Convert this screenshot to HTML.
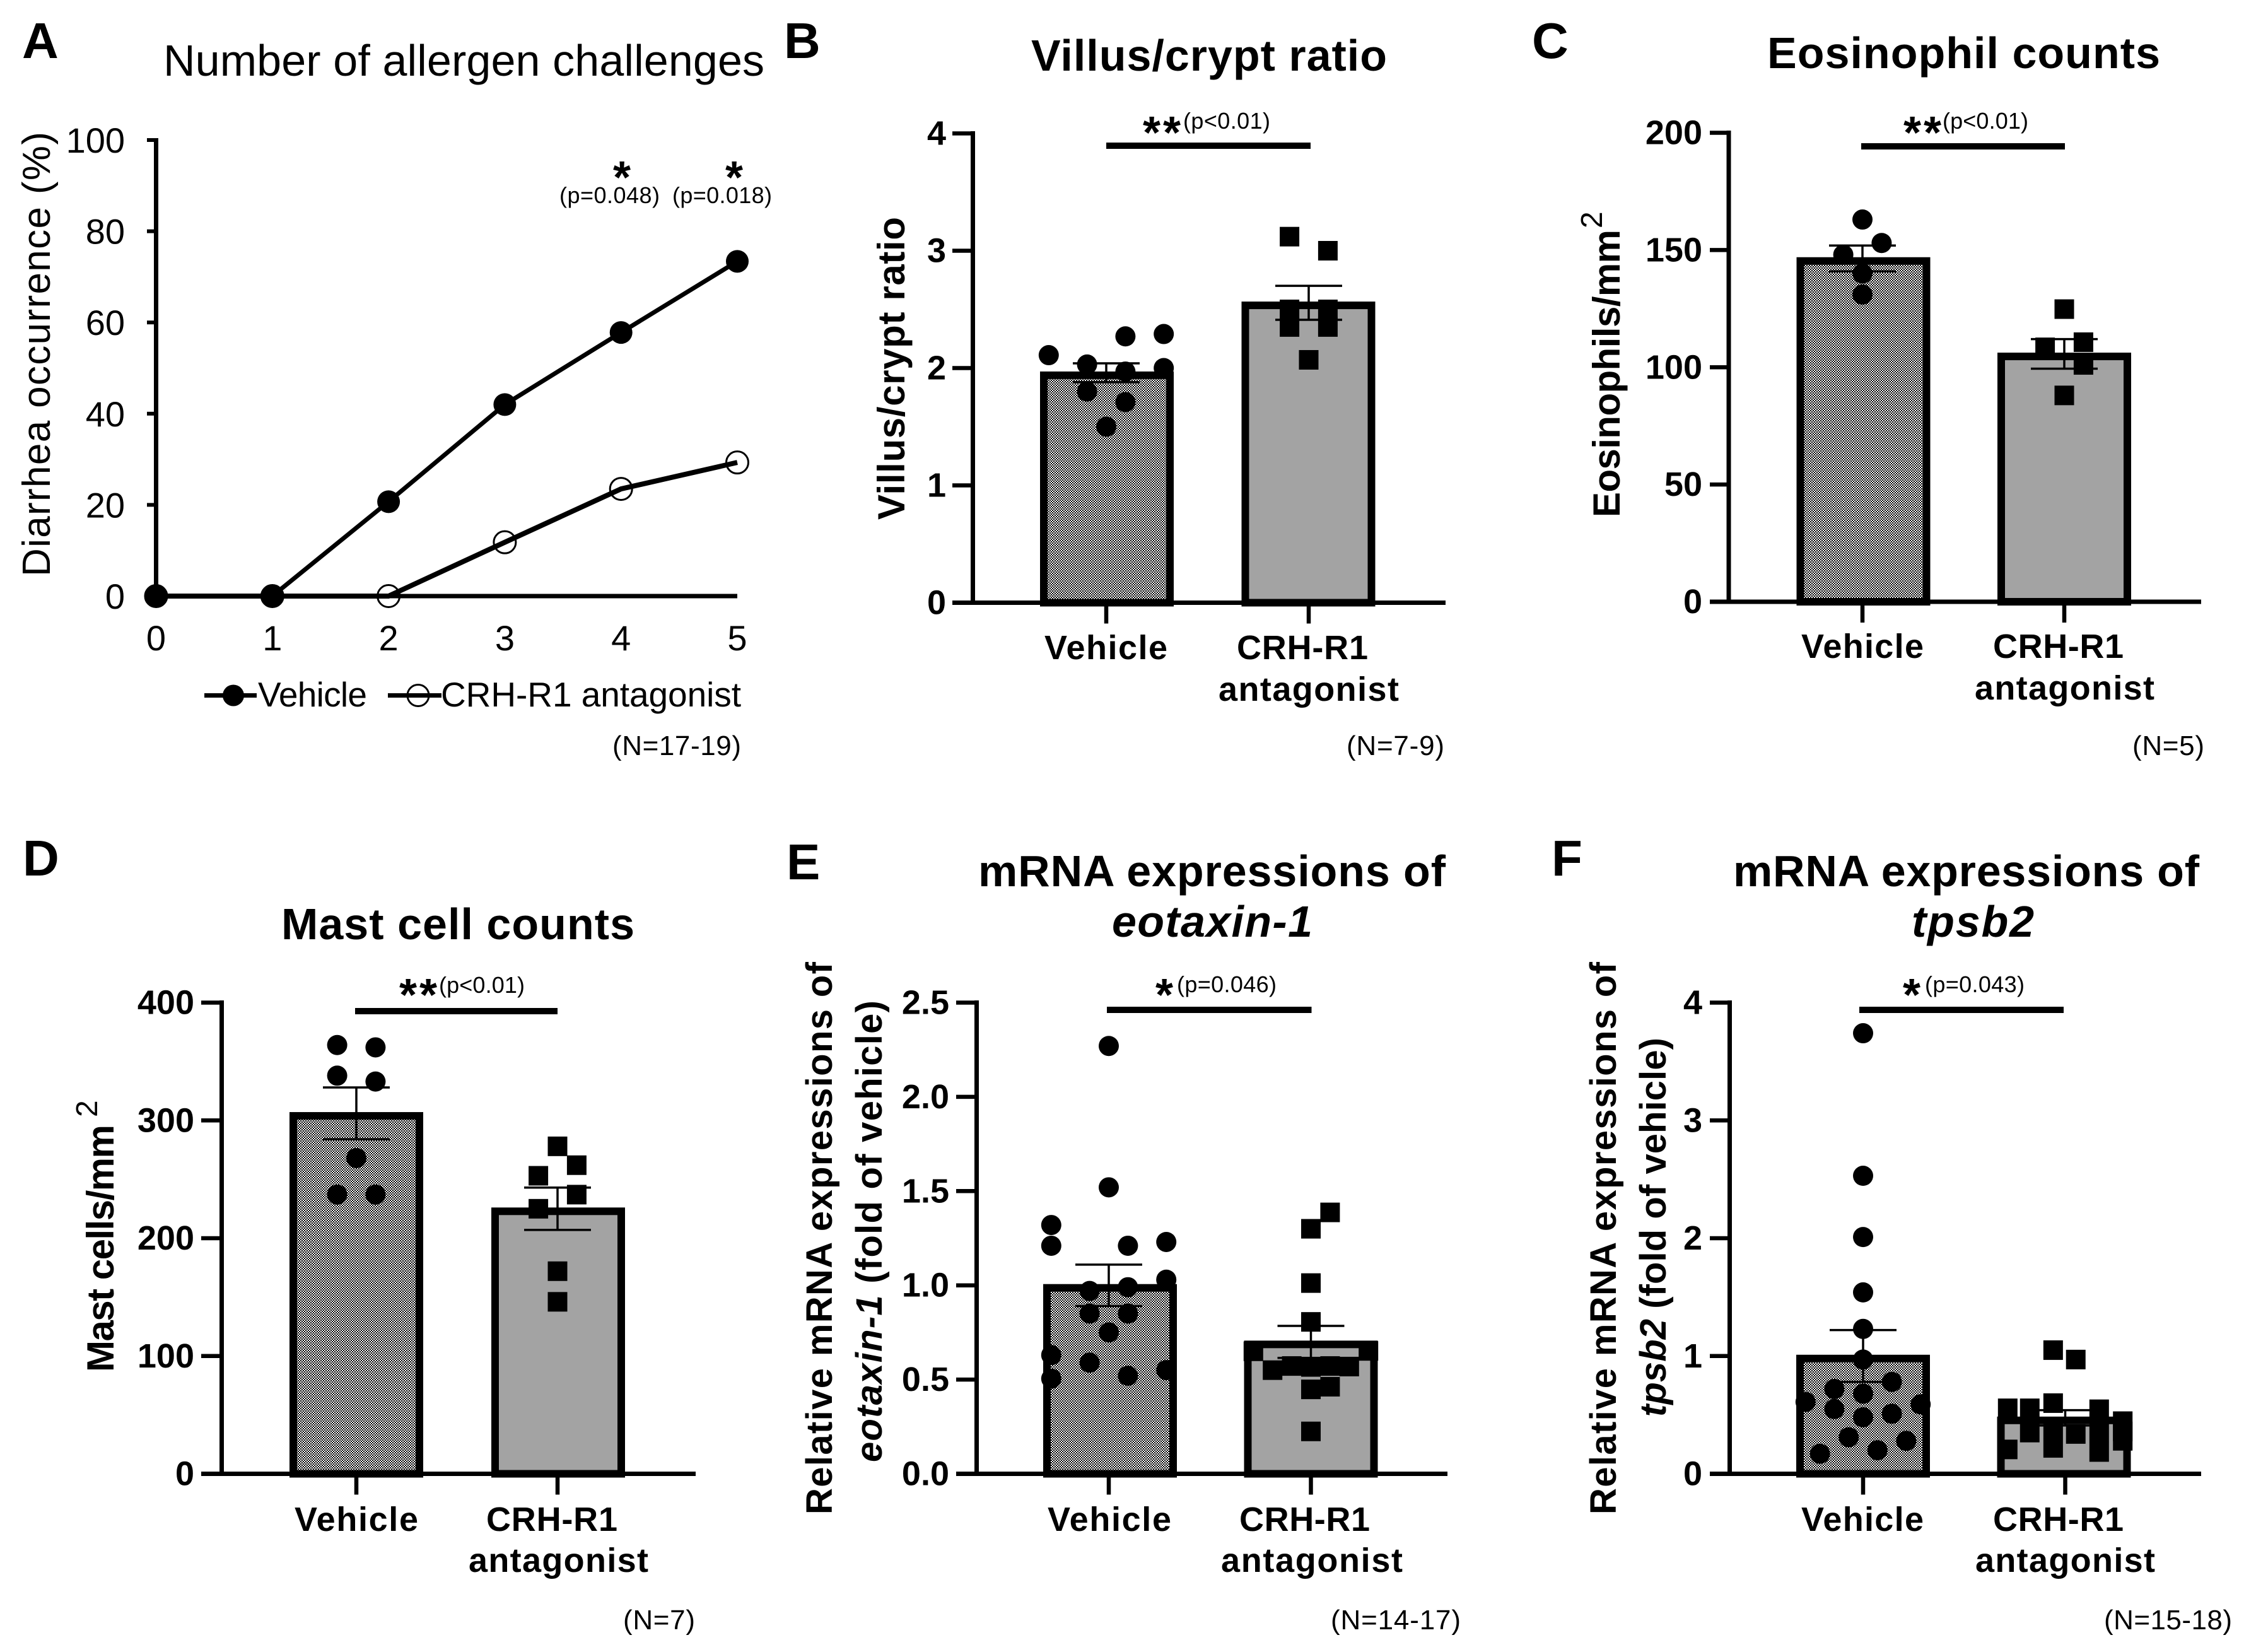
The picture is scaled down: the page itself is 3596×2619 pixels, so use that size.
<!DOCTYPE html>
<html lang="en">
<head>
<meta charset="utf-8">
<title>CRH-R1 antagonist figure</title>
<style>
html,body{margin:0;padding:0;background:#fff;}
svg{display:block;}
text{font-family:"Liberation Sans",Arial,sans-serif;fill:#000;}
.b{font-weight:700;}
.i{font-style:italic;}
</style>
</head>
<body>
<svg id="figure" xmlns="http://www.w3.org/2000/svg" width="3596" height="2619" viewBox="0 0 3596 2619">
<defs>
<pattern id="dither" width="4" height="4" patternUnits="userSpaceOnUse">
<rect width="4" height="4" fill="#fff"/><rect width="2" height="2" fill="#000"/><rect x="2" y="2" width="2" height="2" fill="#000"/>
</pattern>
</defs>
<rect width="3596" height="2619" fill="#fff"/>

<!-- Panel A text -->
<text class="b" x="35" y="92" font-size="80">A</text>
<text x="259" y="120" font-size="70" textLength="953">Number of allergen challenges</text>
<text x="79" y="914" font-size="62" textLength="705" transform="rotate(-90 79 914)">Diarrhea occurrence (%)</text>
<text class="b" x="986" y="306" font-size="72" text-anchor="middle">*</text>
<text class="b" x="1164" y="306" font-size="72" text-anchor="middle">*</text>
<text x="887" y="322" font-size="36" textLength="159">(p=0.048)</text>
<text x="1066" y="322" font-size="36" textLength="158">(p=0.018)</text>
<text x="409" y="1120" font-size="55" textLength="173">Vehicle</text>
<text x="699" y="1120" font-size="55" textLength="476">CRH-R1 antagonist</text>
<text x="971" y="1197" font-size="44" textLength="204">(N=17-19)</text>

<!-- Panel B text -->
<text class="b" x="1243" y="92" font-size="80">B</text>
<text class="b" x="1635" y="112" font-size="70" textLength="564">Villus/crypt ratio</text>
<text class="b" x="1434" y="824" font-size="60" textLength="480" transform="rotate(-90 1434 824)">Villus/crypt ratio</text>
<text class="b" x="1656" y="1045" font-size="54" textLength="195">Vehicle</text>
<text class="b" x="1961" y="1045" font-size="54" textLength="208">CRH-R1</text>
<text class="b" x="1932" y="1111" font-size="54" textLength="286">antagonist</text>
<text class="b" x="1812" y="235" font-size="72" textLength="60">**</text>
<text x="1876" y="204" font-size="36" textLength="138">(p&lt;0.01)</text>
<text x="2135" y="1197" font-size="44" textLength="155">(N=7-9)</text>

<!-- Panel C text -->
<text class="b" x="2429" y="92" font-size="80">C</text>
<text class="b" x="2802" y="108" font-size="70" textLength="623">Eosinophil counts</text>
<text class="b" x="2568" y="820" font-size="60" textLength="456" transform="rotate(-90 2568 820)">Eosinophils/mm</text>
<text x="2540" y="362" font-size="48" transform="rotate(-90 2540 362)">2</text>
<text class="b" x="2856" y="1043" font-size="54" textLength="194">Vehicle</text>
<text class="b" x="3160" y="1043" font-size="54" textLength="207">CRH-R1</text>
<text class="b" x="3131" y="1109" font-size="54" textLength="285">antagonist</text>
<text class="b" x="3018" y="235" font-size="72" textLength="60">**</text>
<text x="3080" y="204" font-size="36" textLength="136">(p&lt;0.01)</text>
<text x="3381" y="1197" font-size="44" textLength="114">(N=5)</text>

<!-- Panel D text -->
<text class="b" x="36" y="1388" font-size="80">D</text>
<text class="b" x="446" y="1489" font-size="70" textLength="560">Mast cell counts</text>
<text class="b" x="180" y="2175" font-size="60" textLength="392" transform="rotate(-90 180 2175)">Mast cells/mm</text>
<text x="154" y="1771" font-size="48" transform="rotate(-90 154 1771)">2</text>
<text class="b" x="467" y="2427" font-size="54" textLength="196">Vehicle</text>
<text class="b" x="771" y="2427" font-size="54" textLength="208">CRH-R1</text>
<text class="b" x="743" y="2492" font-size="54" textLength="285">antagonist</text>
<text class="b" x="633" y="1602" font-size="72" textLength="60">**</text>
<text x="696" y="1574" font-size="36" textLength="136">(p&lt;0.01)</text>
<text x="988" y="2583" font-size="44" textLength="114">(N=7)</text>

<!-- Panel E text -->
<text class="b" x="1247" y="1394" font-size="80">E</text>
<text class="b" x="1551" y="1405" font-size="70" textLength="741">mRNA expressions of</text>
<text class="b i" x="1763" y="1485" font-size="70" textLength="318">eotaxin-1</text>
<text class="b" x="1319" y="2401" font-size="58" textLength="876" transform="rotate(-90 1319 2401)">Relative mRNA expressions of</text>
<text class="b" x="1398" y="2318" font-size="58" textLength="732" transform="rotate(-90 1398 2318)"><tspan class="i">eotaxin-1</tspan> (fold of vehicle)</text>
<text class="b" x="1661" y="2427" font-size="54" textLength="196">Vehicle</text>
<text class="b" x="1965" y="2427" font-size="54" textLength="207">CRH-R1</text>
<text class="b" x="1936" y="2492" font-size="54" textLength="288">antagonist</text>
<text class="b" x="1846" y="1602" font-size="72" text-anchor="middle">*</text>
<text x="1866" y="1573" font-size="36" textLength="158">(p=0.046)</text>
<text x="2110" y="2583" font-size="44" textLength="206">(N=14-17)</text>

<!-- Panel F text -->
<text class="b" x="2460" y="1388" font-size="80">F</text>
<text class="b" x="2748" y="1405" font-size="70" textLength="739">mRNA expressions of</text>
<text class="b i" x="3031" y="1485" font-size="70" textLength="194">tpsb2</text>
<text class="b" x="2562" y="2401" font-size="58" textLength="876" transform="rotate(-90 2562 2401)">Relative mRNA expressions of</text>
<text class="b" x="2641" y="2246" font-size="58" textLength="601" transform="rotate(-90 2641 2246)"><tspan class="i">tpsb2</tspan> (fold of vehicle)</text>
<text class="b" x="2856" y="2427" font-size="54" textLength="194">Vehicle</text>
<text class="b" x="3160" y="2427" font-size="54" textLength="207">CRH-R1</text>
<text class="b" x="3132" y="2492" font-size="54" textLength="285">antagonist</text>
<text class="b" x="3031" y="1602" font-size="72" text-anchor="middle">*</text>
<text x="3052" y="1573" font-size="36" textLength="158">(p=0.043)</text>
<text x="3336" y="2583" font-size="44" textLength="203">(N=15-18)</text>

<g id="marks"></g>
</svg>

<script>
// ---- Panel A data ----
const aChallengeLabels = ["0", "1", "2", "3", "4", "5"];
const aYTickLabels = ["0", "20", "40", "60", "80", "100"];
const aVehicle = [0, 0, 20.7, 42, 57.8, 73.4];
const aAntagonist = [0, 0, 0, 11.8, 23.5, 29.3];

// ---- Panel B data ----
const bYTickLabels = ["0", "1", "2", "3", "4"];
const bMeans = [1.96, 2.556];
const bSems = [0.08, 0.145];
const bVehicleValues = [2.11, 2.03, 2.27, 2.29, 2.0, 1.97, 1.8, 1.71, 1.5];
const bVehicleSwarm = [-3, -1, 1, 3, 3, 1, -1, 1, 0];
const bAntagonistValues = [3.12, 3.0, 2.5, 2.5, 2.35, 2.35, 2.07];
const bAntagonistSwarm = [-1, 1, -1, 1, -1, 1, 0];

// ---- Panel C data ----
const cYTickLabels = ["0", "50", "100", "150", "200"];
const cMeans = [146.4, 105.7];
const cSems = [5.5, 6.3];
const cVehicleValues = [163, 153, 148, 140, 131];
const cVehicleSwarm = [0, 1, -1, 0, 0];
const cAntagonistValues = [124.8, 108.5, 110.7, 101, 88];
const cAntagonistSwarm = [0, -1, 1, 1, 0];

// ---- Panel D data ----
const dYTickLabels = ["0", "100", "200", "300", "400"];
const dMeans = [306, 225];
const dSems = [22, 18];
const dVehicleValues = [364, 362, 338, 333, 268, 237, 237];
const dVehicleSwarm = [-1, 1, -1, 1, 0, -1, 1];
const dAntagonistValues = [278, 262, 253, 237, 225, 172, 146];
const dAntagonistSwarm = [0, 1, -1, 1, -1, 0, 0];

// ---- Panel E data ----
const eYTickLabels = ["0.0", "0.5", "1.0", "1.5", "2.0", "2.5"];
const eMeans = [1.0, 0.7];
const eSems = [0.11, 0.085];
const eVehicleValues = [2.27, 1.52, 1.32, 1.21, 1.21, 1.23, 1.03, 0.97, 0.99, 0.85, 0.85, 0.75, 0.63, 0.59, 0.55, 0.52, 0.505];
const eVehicleSwarm = [0, 0, -3, -3, 1, 3, 3, -1, 1, -1, 1, 0, -3, -1, 3, 1, -3];
const eAntagonistValues = [1.387, 1.3, 1.012, 0.806, 0.65, 0.652, 0.55, 0.572, 0.567, 0.572, 0.569, 0.448, 0.462, 0.225];
const eAntagonistSwarm = [1, 0, 0, 0, -3, 3, -2, -1, 0, 1, 2, 0, 1, 0];

// ---- Panel F data ----
const fYTickLabels = ["0", "1", "2", "3", "4"];
const fMeans = [1.0, 0.475];
const fSems = [0.22, 0.065];
const fVehicleValues = [3.74, 2.53, 2.01, 1.54, 1.23, 0.97, 0.78, 0.72, 0.68, 0.61, 0.59, 0.55, 0.48, 0.51, 0.31, 0.28, 0.17, 0.2];
const fVehicleSwarm = [0, 0, 0, 0, 0, 0, 1.5, -1.5, 0, -3, 3, -1.5, 0, 1.5, -0.75, 2.25, -2.25, 0.75];
const fAntagonistValues = [1.05, 0.97, 0.556, 0.556, 0.6, 0.548, 0.447, 0.385, 0.35, 0.338, 0.35, 0.36, 0.22, 0.185, 0.207, 0.28];
const fAntagonistSwarm = [-0.63, 0.55, -3, -1.85, -0.63, 1.77, 3, -0.63, -1.85, 0.55, 1.77, 3, -0.63, 1.77, -3, 3];

// ---- Layout (geometry only) ----
const NS = "http://www.w3.org/2000/svg";
const root = document.getElementById("marks");
const SWARM_STEP = 30.4, BAR_WIDTH = 212, BORDER = 12, CAP_WIDTH = 106;

function add(parent, tag, attrs, name) {
  const el = document.createElementNS(NS, tag);
  for (const k in attrs) el.setAttribute(k, attrs[k]);
  
  
  parent.appendChild(el);
  return el;
}
function hline(p, x1, x2, y, w, name) {
  return add(p, "line", {x1: x1, x2: x2, y1: y, y2: y, stroke: "#000", "stroke-width": w}, name);
}
function vline(p, x, y1, y2, w, name) {
  return add(p, "line", {x1: x, x2: x, y1: y1, y2: y2, stroke: "#000", "stroke-width": w}, name);
}

function drawBarPanel(id, L, labels, means, sems, series) {
  const g = add(root, "g", {}, "panel-" + id + "-plot");
  const yMax = Number(labels[labels.length - 1]);
  const y = v => L.y0 - (v / yMax) * (L.y0 - L.yTop);
  // bars
  series.forEach((s, i) => {
    const left = L.centers[i] - BAR_WIDTH / 2 + L.barShift[i];
    const top = y(means[i]) - 2;
    add(g, "rect", {
      x: left + BORDER / 2, y: top + BORDER / 2,
      width: BAR_WIDTH - BORDER, height: L.y0 - top - BORDER / 2,
      fill: i === 0 ? "url(#dither)" : "#a3a3a3", stroke: "#000", "stroke-width": BORDER
    }, "panel-" + id + "-bar-" + s.name);
  });
  // points
  series.forEach((s, i) => {
    const cx = L.centers[i];
    s.values.forEach((v, k) => {
      const px = cx + s.swarm[k] * SWARM_STEP;
      if (i === 0) {
        add(g, "circle", {cx: px, cy: y(v), r: 16, fill: "#000"}, "panel-" + id + "-point-vehicle");
      } else {
        add(g, "rect", {x: px - 15.5, y: y(v) - 15.5, width: 31, height: 31, fill: "#000"}, "panel-" + id + "-point-antagonist");
      }
    });
  });
  // error bars
  series.forEach((s, i) => {
    const cx = L.centers[i];
    vline(g, cx, y(means[i] + sems[i]), y(means[i] - sems[i]), 3.5, "panel-" + id + "-error-stem-" + s.name);
    hline(g, cx - CAP_WIDTH / 2, cx + CAP_WIDTH / 2, y(means[i] + sems[i]), 3.5, "panel-" + id + "-error-cap-upper-" + s.name);
    hline(g, cx - CAP_WIDTH / 2, cx + CAP_WIDTH / 2, y(means[i] - sems[i]), 3.5, "panel-" + id + "-error-cap-lower-" + s.name);
  });
  // axes
  vline(g, L.axisX, L.yTop - 3.5, L.y0, 7, "panel-" + id + "-y-axis");
  hline(g, L.tickStart, L.axisEnd, L.y0, 7, "panel-" + id + "-x-axis");
  labels.forEach(lab => {
    const v = Number(lab);
    if (v > 0) hline(g, L.tickStart, L.axisX, y(v), 6.5, "panel-" + id + "-y-tick");
    const t = add(g, "text", {x: L.labelRight, y: y(v) + 18, "font-size": 54, "text-anchor": "end", "class": "b"}, "panel-" + id + "-y-tick-label");
    t.textContent = lab;
  });
  L.centers.forEach(cx => vline(g, cx, L.y0, L.y0 + 33, 6.5, "panel-" + id + "-x-tick"));
  hline(g, L.sig[0], L.sig[1], L.sig[2], 10, "panel-" + id + "-significance-bar");
}

const layoutB = {axisX: 1542.5, y0: 955.5, yTop: 211.5, tickStart: 1510, axisEnd: 2292, labelRight: 1500, centers: [1754, 2075], barShift: [1, -0.5], sig: [1754, 2078, 231]};
const layoutC = {axisX: 2741, y0: 954, yTop: 210.5, tickStart: 2711, axisEnd: 3490, labelRight: 2699, centers: [2953, 3273], barShift: [1.5, 0], sig: [2951, 3274, 232]};
const layoutD = {axisX: 351.5, y0: 2336.5, yTop: 1589.5, tickStart: 319, axisEnd: 1103, labelRight: 308, centers: [565, 884], barShift: [0, 1], sig: [563, 884, 1603]};
const layoutE = {axisX: 1548.5, y0: 2336.5, yTop: 1589.5, tickStart: 1516, axisEnd: 2295, labelRight: 1505, centers: [1758, 2078.5], barShift: [2, 0], sig: [1755, 2079.5, 1601]};
const layoutF = {axisX: 2742.5, y0: 2336.5, yTop: 1589.5, tickStart: 2711, axisEnd: 3490, labelRight: 2699, centers: [2954, 3274.5], barShift: [0, -2], sig: [2948, 3272, 1601]};

drawBarPanel("b", layoutB, bYTickLabels, bMeans, bSems, [
  {name: "vehicle", values: bVehicleValues, swarm: bVehicleSwarm},
  {name: "antagonist", values: bAntagonistValues, swarm: bAntagonistSwarm}]);
drawBarPanel("c", layoutC, cYTickLabels, cMeans, cSems, [
  {name: "vehicle", values: cVehicleValues, swarm: cVehicleSwarm},
  {name: "antagonist", values: cAntagonistValues, swarm: cAntagonistSwarm}]);
drawBarPanel("d", layoutD, dYTickLabels, dMeans, dSems, [
  {name: "vehicle", values: dVehicleValues, swarm: dVehicleSwarm},
  {name: "antagonist", values: dAntagonistValues, swarm: dAntagonistSwarm}]);
drawBarPanel("e", layoutE, eYTickLabels, eMeans, eSems, [
  {name: "vehicle", values: eVehicleValues, swarm: eVehicleSwarm},
  {name: "antagonist", values: eAntagonistValues, swarm: eAntagonistSwarm}]);
drawBarPanel("f", layoutF, fYTickLabels, fMeans, fSems, [
  {name: "vehicle", values: fVehicleValues, swarm: fVehicleSwarm},
  {name: "antagonist", values: fAntagonistValues, swarm: fAntagonistSwarm}]);

// ---- Panel A line chart ----
(function () {
  const g = add(root, "g", {}, "panel-a-plot");
  const X0 = 247.5, X5 = 1169, Y0 = 945, Y100 = 222;
  const x = v => X0 + (v / 5) * (X5 - X0);
  const y = v => Y0 - (v / 100) * (Y0 - Y100);
  vline(g, X0, Y100 - 3, Y0, 7, "panel-a-y-axis");
  hline(g, X0, X5, Y0, 7, "panel-a-x-axis");
  aYTickLabels.forEach(lab => {
    const v = Number(lab);
    hline(g, 233, X0, y(v), 6, "panel-a-y-tick");
    const t = add(g, "text", {x: 198, y: y(v) + 20, "font-size": 56, "text-anchor": "end"}, "panel-a-y-tick-label");
    t.textContent = lab;
  });
  aChallengeLabels.forEach(lab => {
    const t = add(g, "text", {x: x(Number(lab)), y: 1031, "font-size": 56, "text-anchor": "middle"}, "panel-a-x-tick-label");
    t.textContent = lab;
  });
  const pathOf = arr => arr.map((v, i) => (i ? "L" : "M") + x(Number(aChallengeLabels[i])) + " " + y(v)).join(" ");
  add(g, "path", {d: pathOf(aAntagonist), fill: "none", stroke: "#000", "stroke-width": 8}, "line-crh-r1-antagonist");
  aAntagonist.forEach((v, i) => {
    add(g, "circle", {cx: x(Number(aChallengeLabels[i])), cy: y(v), r: 17.5, fill: "none", stroke: "#000", "stroke-width": 3}, "point-crh-r1-antagonist");
  });
  add(g, "path", {d: pathOf(aVehicle), fill: "none", stroke: "#000", "stroke-width": 7}, "line-vehicle");
  aVehicle.forEach((v, i) => {
    add(g, "circle", {cx: x(Number(aChallengeLabels[i])), cy: y(v), r: 18, fill: "#000"}, "point-vehicle");
  });
  const lg = add(g, "g", {}, "panel-a-legend");
  hline(lg, 324, 407, 1102.5, 7, "legend-line-vehicle");
  add(lg, "circle", {cx: 370, cy: 1102.5, r: 17, fill: "#000"}, "legend-marker-vehicle");
  hline(lg, 615, 700, 1102.5, 7, "legend-line-antagonist");
  add(lg, "circle", {cx: 663, cy: 1102.5, r: 17, fill: "#fff", "fill-opacity": 0, stroke: "#000", "stroke-width": 3}, "legend-marker-antagonist");
})();
</script>
</body>
</html>
